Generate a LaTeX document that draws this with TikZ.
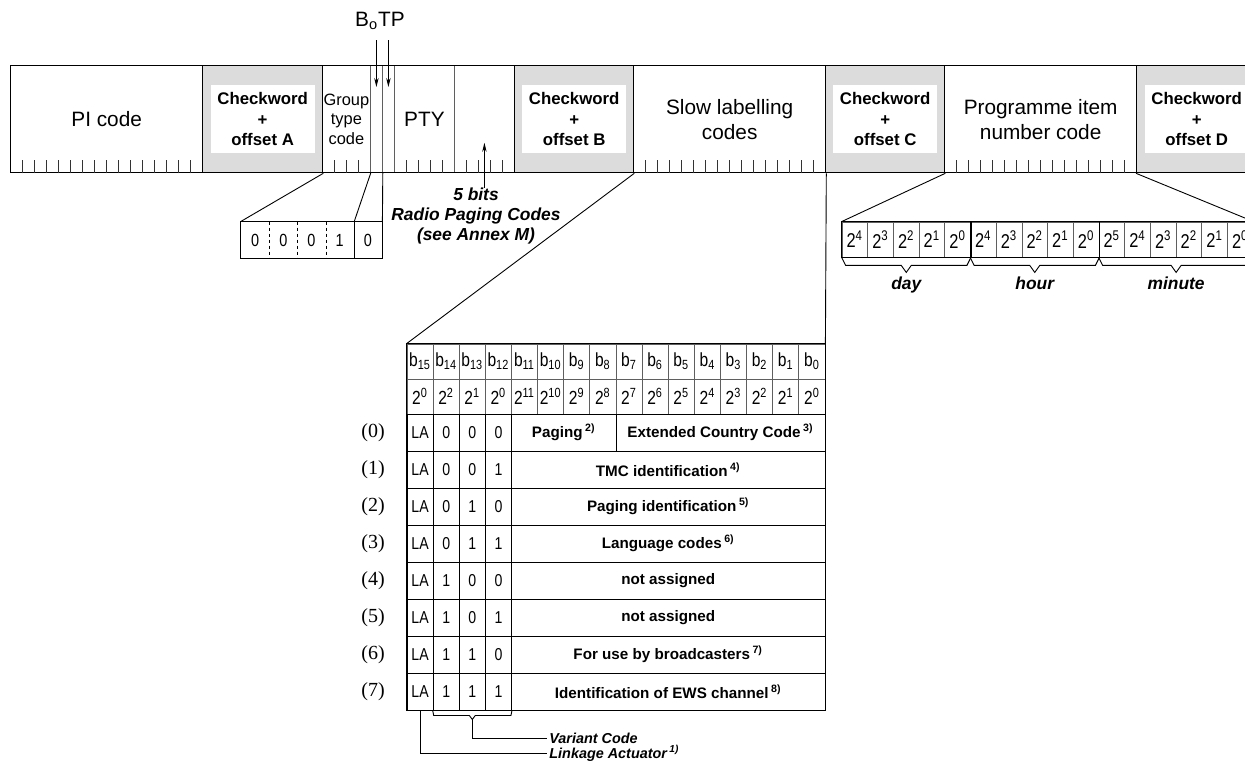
\documentclass[tikz,border=0pt]{standalone}
\usepackage{fontspec}
\setmainfont{Liberation Sans}
\newfontfamily\rowfont{Liberation Serif}
\newfontfamily\narrowfont[FakeStretch=0.82]{Liberation Sans}
\usetikzlibrary{positioning,calc,arrows.meta}

\definecolor{ckgray}{RGB}{220,220,220}
\definecolor{rulegray}{RGB}{95,95,95}
\newcommand\rdsnote[1]{\,\textsuperscript{#1}}

\begin{document}
\begin{tikzpicture}[x=0.5pt, y=-0.5pt,
    % blocks of the group along the top
    field/.style={draw, line width=0.65pt, inner sep=0pt, minimum height=53.5pt, anchor=north west, align=center, font=\fontsize{10.4}{12.5}\selectfont},
    subfield/.style={field, draw=rulegray, line width=0.4pt},
    check/.style={field, fill=ckgray},
    checktext/.style={fill=white, inner sep=0pt, minimum width=52pt, minimum height=34pt, align=center, font=\bfseries\fontsize{8.4}{10.25}\selectfont},
    tick/.style={draw=black!80, line width=0.45pt},
    link/.style={line width=0.45pt},
    arr/.style={line width=0.45pt, -{Stealth[length=4.5pt, width=2.2pt]}},
    annot/.style={font=\bfseries\itshape\fontsize{8.7}{10}\selectfont, inner sep=1pt},
    % cells of the bit tables
    hcell/.style={draw=rulegray, line width=0.4pt, inner sep=0pt, minimum width=13.0625pt, minimum height=17.5pt, font=\narrowfont\fontsize{9.5}{10}\selectfont},
    dcell/.style={draw, line width=0.45pt, inner sep=0pt, minimum width=13.0625pt, minimum height=18.5pt, font=\narrowfont\fontsize{8.6}{9}\selectfont},
    desc/.style={dcell, font=\bfseries\fontsize{7.6}{9}\selectfont},
    gcell/.style={inner sep=0pt, minimum width=14.1pt, minimum height=18pt, font=\narrowfont\fontsize{8.8}{9}\selectfont},
    pcell/.style={draw=rulegray, line width=0.4pt, inner sep=0pt, minimum width=12.85pt, minimum height=17.5pt, font=\narrowfont\fontsize{10}{11}\selectfont},
    rowlab/.style={font=\rowfont\fontsize{10}{11}\selectfont},
    brk/.style={line width=0.45pt}
  ]
  \useasboundingbox (0,0) rectangle (1245,761);
  \clip (0,0) rectangle (1245,761);

  %--- Block 1: PI code and checkword A ---
  \node[field, minimum width=96pt] (pi) at (10,65) {PI code};
  \node[check, minimum width=60pt] (ckA) at (202,65) {};
  \node[checktext] (ckAt) at (ckA) {Checkword\\+\\offset A};

  %--- Block 2: group type, B0, TP, PTY, paging bits ---
  \node[subfield, minimum width=24pt, font=\fontsize{8.2}{9.75}\selectfont] (gtc) at (322,65) {Group\\type\\code};
  \node[subfield, minimum width=6pt] (bo) at (370,65) {};
  \node[subfield, minimum width=6pt] (tp) at (382,65) {};
  \node[subfield, minimum width=30pt] (pty) at (394,65) {PTY};
  \node[subfield, minimum width=30pt] (pag) at (454,65) {};
  \node[field, minimum width=96pt] (grp) at (322,65) {};
  \node[check, minimum width=59.5pt] (ckB) at (514,65) {};
  \node[checktext] (ckBt) at (ckB) {Checkword\\+\\offset B};

  %--- Block 3 and 4 ---
  \node[field, minimum width=96pt] (slow) at (633,65) {Slow labelling\\codes};
  \node[check, minimum width=59.5pt] (ckC) at (825,65) {};
  \node[checktext] (ckCt) at (ckC) {Checkword\\+\\offset C};
  \node[field, minimum width=96pt] (prog) at (944,65) {Programme item\\number code};
  \node[check, minimum width=60pt] (ckD) at (1136,65) {};
  \node[checktext] (ckDt) at (ckD) {Checkword\\+\\offset D};

  % bit ticks
  \foreach \f in {pi,slow,prog}
    \foreach \i in {1,...,15}
      \draw[tick] ($(\f.south west)+(12*\i,0)$) -- ++(0,-13);
  \foreach \f/\n in {gtc/3,pty/4,pag/4}
    \foreach \i in {1,...,\n}
      \draw[tick] ($(\f.south west)+(12*\i,0)$) -- ++(0,-13);

  %--- B0 / TP flags ---
  \node[font=\fontsize{10.4}{12}\selectfont, inner sep=0pt] (botp) at (380,21) {B\textsubscript{o}TP};
  \draw[arr] ($(bo.north)+(0,-25)$) -- ($(bo.north)+(0,22)$);
  \draw[arr] ($(tp.north)+(0,-25)$) -- ($(tp.north)+(0,22)$);

  %--- paging note ---
  \node[annot, align=center] (pagnote) at (476,216) {5 bits\\Radio Paging Codes\\(see Annex M)};
  \draw[arr] ($(pag.south)+(0,15)$) -- ($(pag.south)+(0,-30)$);

  %--- group type code breakout ---
  \foreach \v [count=\k] in {0,0,0,1,0}
    \node[gcell] (g\k) at (241+28.2*\k-14.1,240) {\v};
  \draw[line width=0.65pt] (g1.north west) rectangle (g5.south east);
  \foreach \k in {1,2,3}
    \draw[line width=0.4pt, dash pattern=on 1.5pt off 1.5pt] (g\k.north east) -- (g\k.south east);
  \draw[line width=0.4pt] (g4.north east) -- (g4.south east);
  \draw[link] (ckA.south east) -- (g1.north west);
  \draw[link] (gtc.south east) -- (g4.north east);
  \draw[link] (bo.south east) -- (g5.north east);

  %--- block 3 table: header rows ---
  \foreach \n [count=\k from 0] in {15,14,...,0}
    \node[hcell] (hb\n) at (420.06+26.125*\k,361.5) {b\textsubscript{\n}};
  \foreach \p [count=\k from 0] in {0,2,1,0,11,10,9,8,7,6,5,4,3,2,1,0}
    \node[hcell] (he\k) at (420.06+26.125*\k,396.5) {2\textsuperscript{\p}};

  % variant rows
  \foreach \r/\ba/\bb/\bc in {0/0/0/0,1/0/0/1,2/0/1/0,3/0/1/1,4/1/0/0,5/1/0/1,6/1/1/0,7/1/1/1} {
    \node[rowlab] (r\r) at (373,432.5+37*\r) {(\r)};
    \node[dcell] (la\r) at (420.06,432.5+37*\r) {LA};
    \node[dcell] (va\r) at (446.19,432.5+37*\r) {\ba};
    \node[dcell] (vb\r) at (472.31,432.5+37*\r) {\bb};
    \node[dcell] (vc\r) at (498.44,432.5+37*\r) {\bc};
  }
  \node[desc, minimum width=52.25pt] (d0a) at (563.75,432.5) {Paging\rdsnote{2)}};
  \node[desc, minimum width=104.5pt] (d0b) at (720.5,432.5) {Extended Country Code\rdsnote{3)}};
  \foreach \r/\txt in {1/{TMC identification\rdsnote{4)}},
                       2/{Paging identification\rdsnote{5)}},
                       3/{Language codes\rdsnote{6)}},
                       4/{not assigned},
                       5/{not assigned},
                       6/{For use by broadcasters\rdsnote{7)}},
                       7/{Identification of EWS channel\rdsnote{8)}}}
    \node[desc, minimum width=156.75pt] (d\r) at (668.25,432.5+37*\r) {\txt};
  \draw[line width=0.65pt] (hb15.north west) rectangle (d7.south east);
  \draw[link] (ckB.south east) -- (hb15.north west);
  \draw[link] (slow.south east) -- (hb0.north east);

  % variant code and linkage actuator
  \draw[brk] (va7.south west) -- ++(1,5) -- ($(vb7.south)+(-3,5)$) -- ($(vb7.south)+(0,9)$) coordinate (vtip)
    -- ($(vb7.south)+(3,5)$) -- ($(vc7.south east)+(-1,5)$) -- (vc7.south east);
  \node[annot, font=\bfseries\itshape\fontsize{7.2}{8}\selectfont, anchor=west] (vclab) at (547,738) {Variant Code};
  \node[annot, font=\bfseries\itshape\fontsize{7.2}{8}\selectfont, anchor=west] (lalab) at (547,753) {Linkage Actuator\rdsnote{1)}};
  \draw[brk] (vtip) |- (vclab.west);
  \draw[brk] (la7.south) |- (lalab.west);

  %--- programme item number breakout ---
  \foreach \p [count=\k] in {4,3,2,1,0,4,3,2,1,0,5,4,3,2,1,0}
    \node[pcell] (q\k) at (842+25.7*\k-12.85,239.5) {2\textsuperscript{\p}};
  \draw[line width=0.65pt] (q1.north west) rectangle (q16.south east);
  \draw[line width=0.65pt] (q5.north east) -- (q5.south east);
  \draw[line width=0.65pt] (q10.north east) -- (q10.south east);
  \draw[link] (ckC.south east) -- (q1.north west);
  \draw[link] (ckD.south west) -- (q16.north east);
  \foreach \a/\b/\lab in {q1/q5/day,q6/q10/hour,q11/q16/minute} {
    \coordinate (mid) at ($(\a.south west)!0.5!(\b.south east)$);
    \draw[brk] (\a.south west) -- ++(4,8) -- ($(mid)+(-5,8)$) -- ($(mid)+(0,15)$)
      -- ($(mid)+(5,8)$) -- ($(\b.south east)+(-4,8)$) -- (\b.south east);
    \node[annot, below=1pt] (\lab) at ($(mid)+(0,15)$) {\lab};
  }
\end{tikzpicture}
\end{document}
